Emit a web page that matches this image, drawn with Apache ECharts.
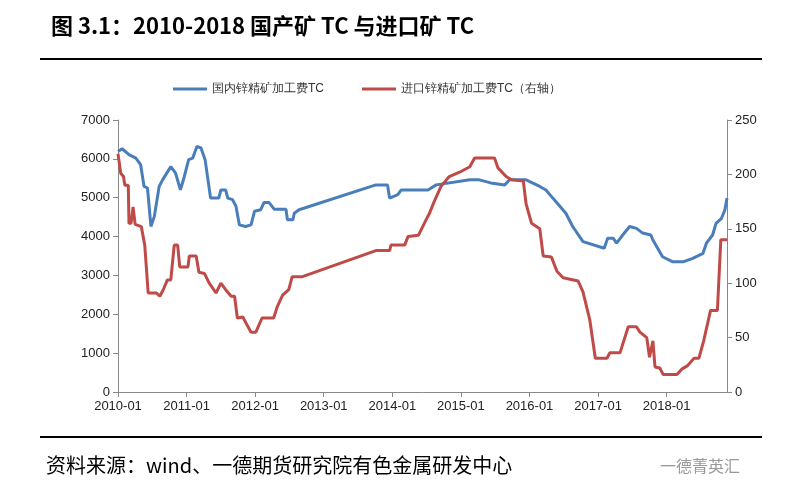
<!DOCTYPE html>
<html lang="zh">
<head>
<meta charset="UTF-8">
<title>国产矿TC与进口矿TC</title>
<script src="https://cdn.jsdelivr.net/npm/echarts@6.0.0/dist/echarts.min.js"></script>
<style>
    body { margin: 0; background: #fff; font-family: "Noto Sans CJK SC", sans-serif; }
    #chart { width: 785px; height: 500px; }
</style>
</head>
<body>
<div id="chart"></div>
<script>
    // years since 2010-01
    const domT = [0,0.06,0.16,0.26,0.33,0.38,0.43,0.48,0.53,0.60,0.65,0.77,0.84,0.91,0.96,1.03,1.09,1.15,1.21,1.27,1.35,1.47,1.50,1.57,1.60,1.67,1.72,1.77,1.86,1.94,1.99,2.08,2.13,2.20,2.28,2.45,2.47,2.55,2.57,2.64,3.76,3.93,3.96,4.08,4.13,4.52,4.64,5.13,5.27,5.46,5.64,5.71,5.95,6.15,6.24,6.34,6.53,6.63,6.78,7.09,7.14,7.22,7.27,7.36,7.46,7.56,7.65,7.77,7.80,7.94,8.09,8.24,8.38,8.53,8.58,8.67,8.72,8.80,8.85,8.88];
    const domTC = [6190,6260,6110,6020,5850,5290,5250,4260,4520,5290,5460,5800,5630,5200,5500,5980,6020,6320,6280,5980,4990,4990,5200,5200,4990,4950,4780,4300,4260,4300,4650,4690,4880,4880,4700,4700,4430,4430,4600,4690,5330,5330,4990,5080,5200,5200,5330,5460,5460,5370,5330,5460,5460,5290,5200,4990,4600,4260,3870,3700,3960,3960,3830,4040,4260,4210,4090,4040,3910,3480,3350,3350,3440,3570,3830,4040,4340,4470,4690,4990];
    const impT = [0,0.04,0.08,0.10,0.15,0.16,0.19,0.22,0.25,0.34,0.39,0.44,0.56,0.61,0.66,0.72,0.77,0.82,0.87,0.90,1.02,1.04,1.14,1.18,1.26,1.33,1.43,1.50,1.57,1.65,1.70,1.74,1.82,1.87,1.94,2.01,2.10,2.27,2.32,2.40,2.49,2.54,2.69,3.76,3.96,3.98,4.18,4.23,4.38,4.49,4.54,4.61,4.71,4.83,4.98,5.13,5.20,5.49,5.54,5.66,5.74,5.91,5.95,6.03,6.15,6.20,6.32,6.40,6.49,6.71,6.78,6.88,6.96,7.13,7.17,7.32,7.44,7.56,7.61,7.71,7.75,7.80,7.83,7.90,7.95,8.15,8.22,8.30,8.40,8.47,8.54,8.64,8.74,8.79,8.88];
    const impTC = [219,201,198,190,190,155,155,170,154,152,135,91,91,88,94,103,103,135,135,115,115,125,125,110,109,100,91,100,94,88,88,68,69,63,55,55,68,68,78,89,94,106,106,130,130,135,135,143,144,158,164,175,189,198,202,207,215,215,206,198,195,194,173,155,150,125,124,111,105,102,92,66,31,31,36,36,60,60,55,50,32,47,23,22,16,16,21,24,31,31,47,75,75,140,140];

    const pair = (t, v) => t.map((x, i) => [x, v[i]]);
    const axisLine = { show: true, lineStyle: { color: '#888' } };
    const label = { color: '#222', fontSize: 13, fontFamily: 'Arial', formatter: v => String(v) };

    const chart = echarts.init(document.getElementById('chart'));
    chart.setOption({
        animation: false,
        title: {
            text: '图 3.1：2010-2018 国产矿 TC 与进口矿 TC',
            left: 46, top: 10,
            textStyle: { fontSize: 22, fontWeight: 'bold', color: '#000', fontFamily: 'Noto Sans CJK SC' }
        },
        graphic: [
            { type: 'rect', shape: { x: 40, y: 58, width: 722, height: 2 }, style: { fill: '#000' } },
            { type: 'rect', shape: { x: 40, y: 436, width: 722, height: 2 }, style: { fill: '#000' } },
            { type: 'text', left: 46, top: 455, style: { text: '资料来源：wind、一德期货研究院有色金属研发中心', fontSize: 20, fill: '#000', fontFamily: 'Noto Sans CJK SC' } },
            { type: 'text', left: 660, top: 458, style: { text: '一德菁英汇', fontSize: 16, fill: '#999', fontFamily: 'Noto Sans CJK SC' } }
        ],
        legend: {
            top: 78, left: 168, itemGap: 38, itemWidth: 34, itemHeight: 3,
            icon: 'rect',
            textStyle: { fontSize: 12, color: '#333' },
            data: ['国内锌精矿加工费TC', '进口锌精矿加工费TC（右轴）']
        },
        grid: { left: 118, right: 58, top: 120, bottom: 108 },
        xAxis: {
            type: 'value', min: 0, max: 8.88, interval: 1,
            axisLine, axisTick: { show: true, lineStyle: { color: '#888' } },
            splitLine: { show: false },
            axisLabel: Object.assign({}, label, { showMaxLabel: false, formatter: v => (2010 + v) + '-01' })
        },
        yAxis: [
            { type: 'value', min: 0, max: 7000, interval: 1000, axisLine, axisTick: { show: true, lineStyle: { color: '#888' } }, splitLine: { show: false }, axisLabel: label },
            { type: 'value', min: 0, max: 250, interval: 50, axisLine, axisTick: { show: true, lineStyle: { color: '#888' } }, splitLine: { show: false }, axisLabel: label }
        ],
        series: [
            { name: '国内锌精矿加工费TC', type: 'line', data: pair(domT, domTC), showSymbol: false, lineStyle: { color: '#4a7ebb', width: 3 }, itemStyle: { color: '#4a7ebb' } },
            { name: '进口锌精矿加工费TC（右轴）', type: 'line', yAxisIndex: 1, data: pair(impT, impTC), showSymbol: false, lineStyle: { color: '#be4b48', width: 3 }, itemStyle: { color: '#be4b48' } }
        ]
    });
</script>
</body>
</html>
